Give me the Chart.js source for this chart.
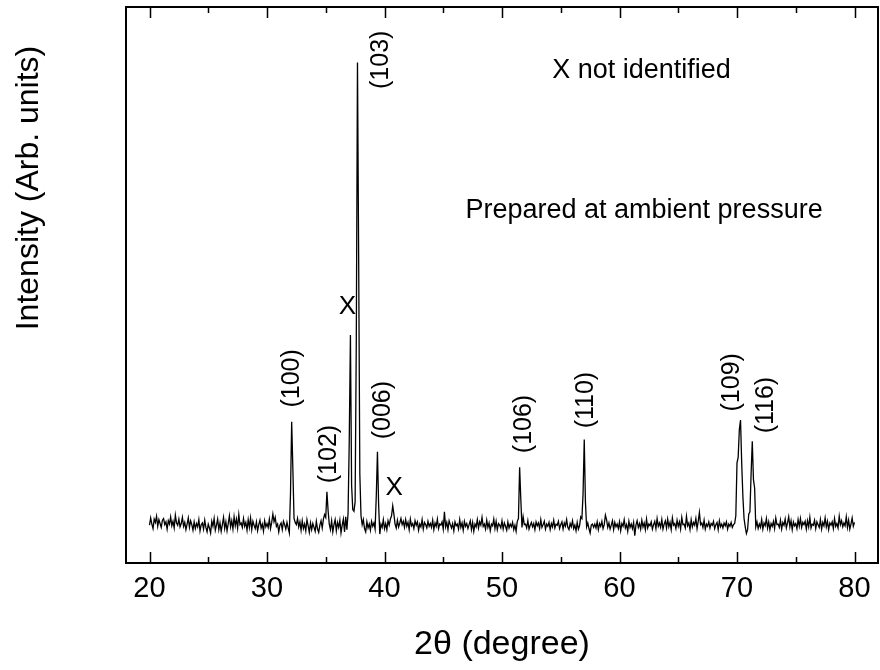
<!DOCTYPE html>
<html>
<head>
<meta charset="utf-8">
<script src="https://cdn.jsdelivr.net/npm/chart.js@4.4.0/dist/chart.umd.min.js"></script>
<style>
    body { margin: 0; background: #fff; }
</style>
</head>
<body>
<canvas id="myChart" width="880" height="670"></canvas>
<script>
// 2theta from 20 to 80 in steps of 0.1, one row per degree
let startAngle = 20
let angleStep = 0.1
let intensity = [
    6.8, 8.1, 7.0, 6.2, 7.9, 7.3, 8.4, 6.6, 7.8, 7.1,
    6.4, 7.7, 8.0, 6.9, 7.4, 6.1, 7.6, 7.0, 8.3, 6.7,
    7.5, 6.3, 8.6, 7.2, 6.8, 7.9, 6.5, 7.1, 8.2, 6.6,
    7.3, 6.0, 7.0, 8.1, 6.4, 7.6, 6.9, 5.9, 7.4, 6.2,
    7.1, 6.5, 7.8, 5.8, 6.9, 7.2, 6.1, 7.7, 6.4, 5.6,
    7.0, 6.3, 5.4, 7.5, 6.6, 8.0, 5.9, 6.8, 7.9, 6.0,
    7.2, 5.7, 6.9, 8.2, 6.2, 7.4, 5.8, 7.1, 8.5, 6.5,
    7.6, 6.1, 8.3, 6.7, 7.9, 6.3, 8.7, 6.9, 7.2, 6.4,
    8.0, 6.6, 7.3, 5.9, 7.8, 6.4, 8.1, 6.0, 7.5, 6.8,
    6.2, 7.4, 5.8, 6.9, 7.7, 6.3, 7.0, 5.7, 7.6, 6.5,
    7.1, 6.4, 7.9, 6.2, 7.3, 8.8, 7.4, 8.2, 6.6, 7.0,
    5.6, 6.8, 7.2, 6.0, 7.5, 6.9, 6.1, 7.3, 6.3, 5.4,
    12.5, 25.4, 17.0, 8.0, 7.3, 6.9, 8.0, 6.5, 7.4, 5.9,
    7.6, 6.2, 7.0, 5.8, 7.8, 6.7, 5.5, 7.2, 6.0, 7.1,
    6.4, 5.7, 7.5, 6.1, 5.5, 6.8, 7.6, 6.3, 7.9, 8.7,
    8.2, 12.8, 9.4, 7.0, 6.0, 7.6, 5.6, 6.9, 7.8, 5.8,
    7.3, 6.4, 7.7, 5.4, 6.8, 7.9, 5.6, 8.3, 6.0, 9.0,
    22.0, 41.0, 14.0, 9.6, 9.3, 11.0, 40.0, 90.0, 55.0, 16.0,
    8.5, 6.9, 7.8, 6.2, 5.6, 7.4, 6.3, 7.0, 5.9, 7.5,
    6.6, 7.2, 6.1, 12.0, 20.0, 10.5, 5.2, 7.0, 6.4, 7.8,
    6.2, 7.1, 6.0, 7.6, 6.8, 7.9, 8.5, 10.3, 8.8, 7.0,
    6.3, 7.7, 6.5, 7.2, 8.0, 6.9, 7.5, 6.4, 7.8, 6.6,
    7.3, 6.0, 7.9, 6.7, 7.1, 6.2, 7.6, 6.8, 7.4, 5.9,
    7.0, 6.5, 7.8, 6.1, 7.3, 6.9, 6.3, 7.5, 6.6, 7.1,
    6.4, 7.7, 6.0, 7.2, 6.6, 7.9, 6.2, 7.0, 6.8, 7.4,
    6.1, 9.2, 6.5, 7.3, 6.0, 7.6, 6.9, 6.3, 7.1, 5.8,
    7.4, 6.7, 7.0, 6.1, 7.8, 6.4, 7.2, 5.9, 7.5, 6.6,
    7.1, 6.2, 6.9, 7.6, 6.0, 7.3, 5.7, 7.0, 6.5, 7.8,
    6.3, 7.4, 6.8, 8.2, 6.6, 7.0, 6.1, 7.7, 6.4, 7.2,
    5.8, 7.0, 6.7, 7.9, 6.2, 7.5, 6.0, 7.1, 6.8, 6.3,
    7.6, 6.1, 7.2, 6.6, 5.9, 7.4, 6.3, 7.0, 6.5, 7.3,
    6.0, 6.8, 5.7, 7.5, 8.0, 17.2, 11.5, 6.4, 8.3, 6.9,
    7.0, 6.3, 7.6, 6.1, 6.8, 7.3, 6.5, 7.1, 6.0, 7.4,
    6.7, 7.2, 6.2, 7.8, 6.4, 6.9, 7.5, 6.1, 7.0, 6.6,
    7.3, 6.0, 7.1, 6.5, 7.7, 6.3, 7.0, 6.8, 7.5, 6.2,
    6.9, 7.4, 6.1, 7.2, 6.6, 7.8, 6.4, 6.0, 7.1, 6.5,
    7.6, 6.2, 6.8, 5.8, 7.3, 6.1, 6.7, 8.3, 8.0, 12.5,
    22.2, 11.0, 6.5, 7.2, 6.2, 5.4, 6.8, 7.0, 6.4, 7.0,
    6.3, 7.4, 6.0, 7.1, 6.6, 7.5, 6.2, 6.9, 8.6, 7.8,
    6.4, 7.2, 6.1, 6.8, 7.6, 6.0, 7.3, 6.5, 7.0, 6.2,
    7.4, 5.8, 7.1, 6.6, 7.8, 6.3, 6.9, 5.7, 7.5, 6.4,
    7.0, 6.2, 7.3, 4.9, 6.8, 7.6, 6.4, 7.1, 6.1, 7.7,
    6.5, 7.2, 6.0, 7.9, 6.3, 7.0, 6.7, 7.4, 6.1, 6.9,
    7.5, 6.2, 8.0, 6.6, 7.2, 6.4, 7.8, 6.1, 7.0, 7.6,
    6.3, 7.9, 6.5, 7.3, 6.0, 8.1, 6.8, 7.1, 6.2, 7.7,
    6.6, 7.4, 6.1, 8.2, 6.9, 7.0, 6.3, 8.4, 6.7, 7.2,
    6.0, 7.8, 6.5, 7.3, 6.8, 8.0, 6.2, 7.5, 9.1, 6.9,
    7.2, 6.4, 7.7, 6.1, 7.0, 6.6, 7.4, 6.3, 7.1, 6.8,
    7.5, 6.2, 6.9, 7.3, 6.0, 7.6, 6.5, 7.0, 6.3, 7.2,
    6.7, 7.4, 6.1, 7.0, 6.6, 7.3, 6.4, 6.9, 7.1, 8.5,
    18.0, 19.0, 24.0, 25.7, 18.0, 12.0, 8.0, 6.5, 5.3, 6.0,
    8.8, 9.2, 16.0, 21.9, 15.0, 13.5, 6.5, 7.4, 6.2, 7.0,
    6.4, 7.8, 6.1, 7.2, 6.7, 8.0, 6.3, 7.4, 6.0, 7.1,
    6.6, 7.5, 6.2, 8.1, 6.9, 7.0, 6.4, 7.7, 6.1, 7.3,
    6.8, 7.9, 6.3, 7.2, 8.3, 6.5, 7.6, 6.0, 7.4, 6.7,
    7.1, 6.2, 7.8, 6.6, 8.0, 6.4, 7.3, 6.9, 7.5, 6.1,
    7.6, 6.5, 8.2, 6.3, 7.0, 6.8, 7.7, 6.2, 7.4, 6.9,
    6.4, 7.8, 6.1, 7.3, 6.7, 8.1, 6.5, 7.5, 6.0, 7.2,
    6.8, 7.4, 6.2, 8.0, 6.6, 7.1, 6.3, 8.4, 6.9, 7.6,
    6.5, 7.2, 6.7, 8.3, 6.4, 7.7, 6.1, 7.0, 8.1, 6.6,
    7.3
]

let xTicks = [20, 30, 40, 50, 60, 70, 80]
let xMinorTicks = [25, 35, 45, 55, 65, 75]

// peak labels: text, 2theta, intensity of label centre
let peakNames = ["(100)", "(102)", "(103)", "(006)", "(106)", "(110)", "(109)", "(116)"]
let peakAngles = [32.14, 35.31, 39.70, 39.91, 51.89, 57.13, 69.60, 72.47]
let peakHeights = [33.2, 19.6, 90.5, 27.5, 25.0, 29.3, 32.5, 28.4]

let xMarkAngles = [36.84, 40.83]
let xMarkHeights = [46.1, 13.5]

let notes = ["X not identified", "Prepared at ambient pressure"]
let noteAngles = [61.87, 62.09]
let noteHeights = [87.2, 62.0]

let points = []
for (let i = 0; i < intensity.length; i++) {
    points.push({ x: startAngle + i * angleStep, y: intensity[i] })
}

const fontName = "'Liberation Sans', Arial, sans-serif"

const framePlugin = {
    id: "frame",
    afterDraw(chart) {
        let ctx = chart.ctx
        let area = chart.chartArea
        let xs = chart.scales.x
        let ys = chart.scales.y
        ctx.save()
        ctx.strokeStyle = "#000"
        ctx.lineWidth = 2
        ctx.strokeRect(area.left, area.top, area.right - area.left, area.bottom - area.top)

        // inward ticks top and bottom
        ctx.lineWidth = 1.5
        ctx.beginPath()
        xTicks.forEach(v => {
            let px = Math.round(xs.getPixelForValue(v)) + 0.5
            ctx.moveTo(px, area.bottom); ctx.lineTo(px, area.bottom - 11)
            ctx.moveTo(px, area.top); ctx.lineTo(px, area.top + 11)
        })
        xMinorTicks.forEach(v => {
            let px = Math.round(xs.getPixelForValue(v)) + 0.5
            ctx.moveTo(px, area.bottom); ctx.lineTo(px, area.bottom - 6)
            ctx.moveTo(px, area.top); ctx.lineTo(px, area.top + 6)
        })
        ctx.stroke()

        ctx.fillStyle = "#000"
        // peak labels, rotated
        ctx.font = "25px " + fontName
        ctx.textAlign = "center"
        ctx.textBaseline = "middle"
        for (let i = 0; i < peakNames.length; i++) {
            ctx.save()
            ctx.translate(xs.getPixelForValue(peakAngles[i]), ys.getPixelForValue(peakHeights[i]))
            ctx.rotate(-Math.PI / 2)
            ctx.fillText(peakNames[i], 0, 0)
            ctx.restore()
        }
        ctx.font = "26px " + fontName
        for (let i = 0; i < xMarkAngles.length; i++) {
            ctx.fillText("X", xs.getPixelForValue(xMarkAngles[i]), ys.getPixelForValue(xMarkHeights[i]))
        }

        ctx.font = "27px " + fontName
        ctx.textBaseline = "alphabetic"
        for (let i = 0; i < notes.length; i++) {
            ctx.fillText(notes[i], xs.getPixelForValue(noteAngles[i]), ys.getPixelForValue(noteHeights[i]))
        }

        // axis titles
        ctx.font = "34px " + fontName
        ctx.fillText("2\u03B8 (degree)", 502, 654)
        ctx.font = "32px " + fontName
        ctx.save()
        ctx.translate(38, 188)
        ctx.rotate(-Math.PI / 2)
        ctx.fillText("Intensity (Arb. units)", 0, 0)
        ctx.restore()
        ctx.restore()
    }
}

new Chart("myChart", {
    type: "line",
    data: {
        datasets: [{
            data: points,
            borderColor: "#000",
            borderWidth: 1.3,
            pointRadius: 0,
            tension: 0,
            fill: false
        }]
    },
    options: {
        responsive: false,
        animation: false,
        events: [],
        layout: { padding: { left: 126, right: 2, top: 7, bottom: 0 } },
        plugins: {
            legend: { display: false },
            tooltip: { enabled: false }
        },
        scales: {
            x: {
                type: "linear",
                min: 18,
                max: 82,
                grid: { display: false, drawTicks: false },
                border: { display: false },
                ticks: {
                    color: "#000",
                    font: { family: fontName, size: 29 },
                    padding: 9,
                    maxRotation: 0
                },
                afterBuildTicks: scale => {
                    scale.ticks = xTicks.map(v => ({ value: v }))
                },
                afterFit: scale => {
                    scale.height = 107
                }
            },
            y: {
                display: false,
                min: 0,
                max: 100
            }
        }
    },
    plugins: [framePlugin]
})
</script>
</body>
</html>
